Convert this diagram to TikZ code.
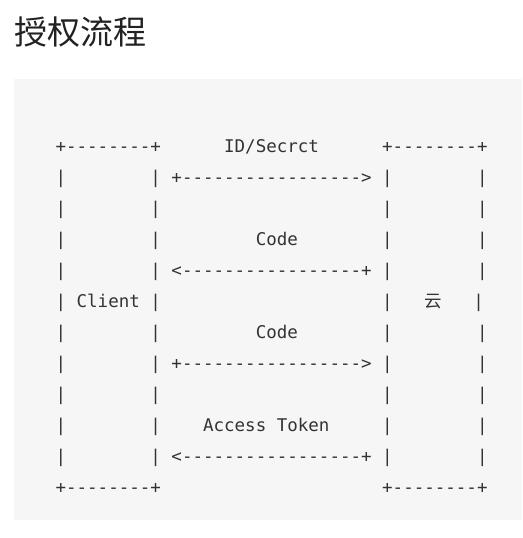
\documentclass[tikz,border=0pt]{standalone}
\usepackage{fontspec}
\setmonofont{DejaVu Sans Mono}
\newfontfamily\cjk{Noto Sans CJK SC}
\definecolor{codebg}{HTML}{F6F6F6}
\definecolor{codetext}{HTML}{333333}
\definecolor{titletext}{HTML}{222222}

\begin{document}
\begin{tikzpicture}[x=1pt,y=-1pt,
    row/.style={anchor=base west,inner sep=0pt,text=codetext,font=\ttfamily\fontsize{17.5}{21}\selectfont}]
                \useasboundingbox (0,0) rectangle (522,538);
                \fill[codebg] (14,79) rectangle (522,520);
                \node[anchor=base west,inner sep=0pt,text=titletext,font=\cjk\fontsize{33}{40}\selectfont] (title) at (14,44) {授权流程};
                \node[row] (r1) at (55.4,152) {+--------+~~~~~~ID/Secrct~~~~~~+--------+};
                \node[row] (r2) at (55.4,183) {|~~~~~~~~|~+----------------->~|~~~~~~~~|};
                \node[row] (r3) at (55.4,214) {|~~~~~~~~|~~~~~~~~~~~~~~~~~~~~~|~~~~~~~~|};
                \node[row] (r4) at (55.4,245) {|~~~~~~~~|~~~~~~~~~Code~~~~~~~~|~~~~~~~~|};
                \node[row] (r5) at (55.4,276) {|~~~~~~~~|~<-----------------+~|~~~~~~~~|};
                \node[row] (r6) at (55.4,307) {|~Client~|~~~~~~~~~~~~~~~~~~~~~|~~~{\cjk 云}~~~|};
                \node[row] (r7) at (55.4,338) {|~~~~~~~~|~~~~~~~~~Code~~~~~~~~|~~~~~~~~|};
                \node[row] (r8) at (55.4,369) {|~~~~~~~~|~+----------------->~|~~~~~~~~|};
                \node[row] (r9) at (55.4,400) {|~~~~~~~~|~~~~~~~~~~~~~~~~~~~~~|~~~~~~~~|};
                \node[row] (r10) at (55.4,431) {|~~~~~~~~|~~~~Access~Token~~~~~|~~~~~~~~|};
                \node[row] (r11) at (55.4,462) {|~~~~~~~~|~<-----------------+~|~~~~~~~~|};
                \node[row] (r12) at (55.4,493) {+--------+~~~~~~~~~~~~~~~~~~~~~+--------+};
            \end{tikzpicture}
\end{document}
